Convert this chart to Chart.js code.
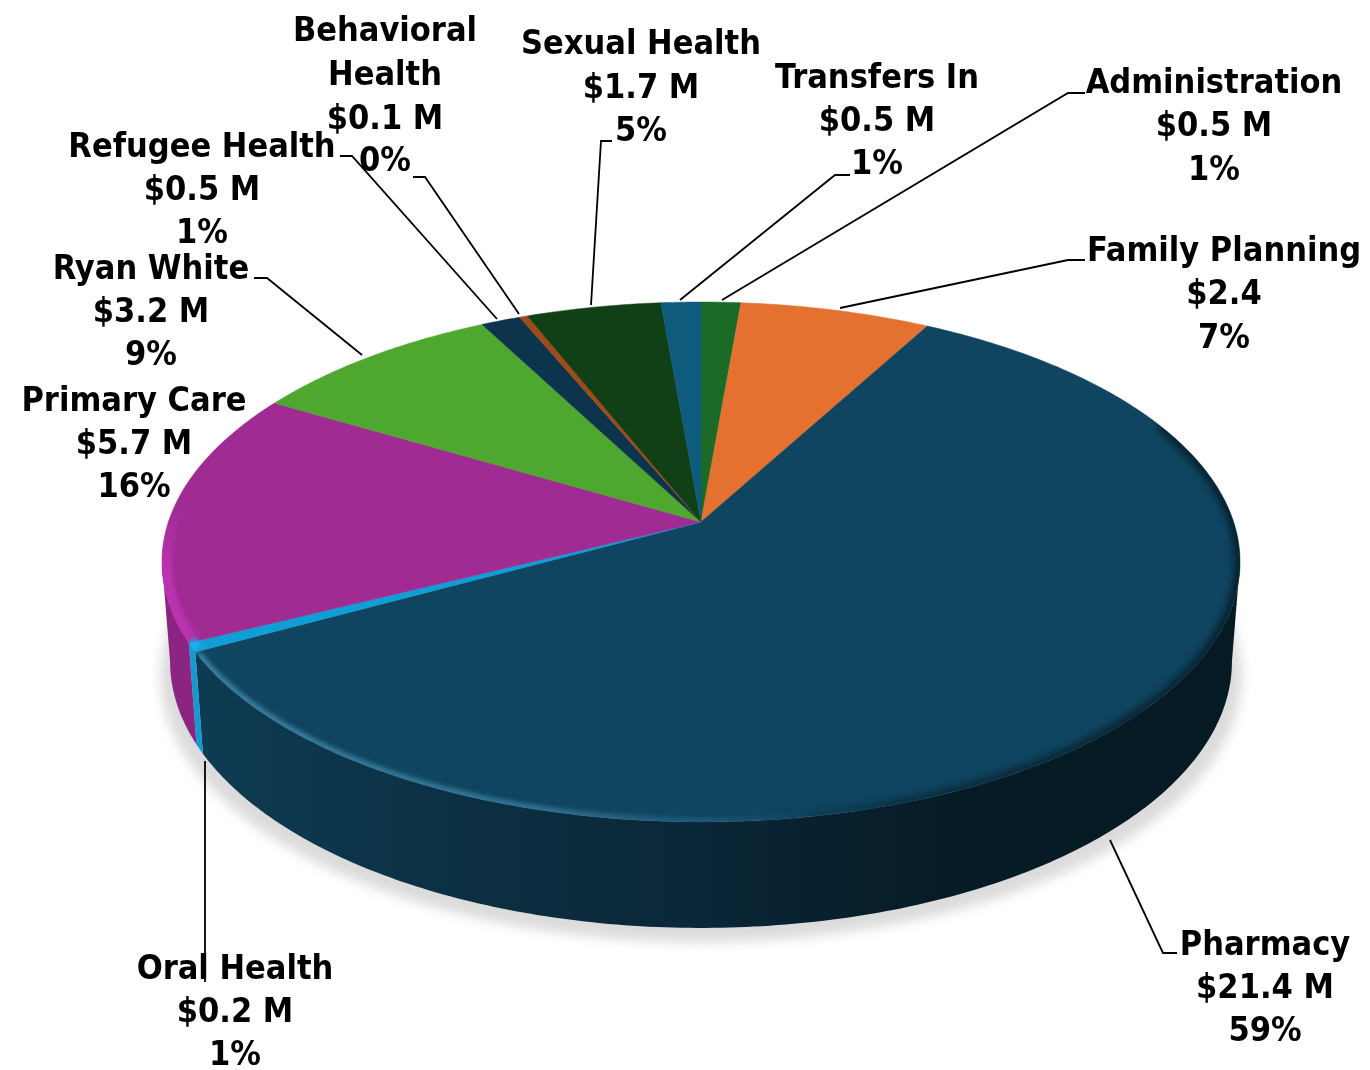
<!DOCTYPE html>
<html><head><meta charset="utf-8">
<style>html,body{margin:0;padding:0;background:#fff}canvas{display:block}</style>
<script src="https://cdn.jsdelivr.net/npm/chart.js@4"></script>
</head><body>
<canvas id="c" width="1370" height="1070"></canvas>
<script>
// ---- data (clockwise from 12 o'clock) ----
const categories = ["Administration","Family Planning","Pharmacy","Oral Health","Primary Care","Ryan White","Refugee Health","Behavioral Health","Sexual Health","Transfers In"];
const values = [0.5,2.4,21.4,0.2,5.7,3.2,0.5,0.1,1.7,0.5];
const amountLabels = ["$0.5 M","$2.4","$21.4 M","$0.2 M","$5.7 M","$3.2 M","$0.5 M","$0.1 M","$1.7 M","$0.5 M"];
const percentLabels = ["1%","7%","59%","1%","16%","9%","1%","0%","5%","1%"];

// ---- styles ----
const faceColors = ["#1b6b26","#e57130","#0f4560","#0f9ed5","#a02b93","#4ea72e","#0d344d","#a14a17","#114016","#0e5b7e"];
const wallColors = ["#125019","#b85a25","#0b2f42","#1499d0","#8c2482","#3d8524","#0a2a3e","#80390f","#0d3010","#0a4663"];

// ---- label layout: centre x and baselines ----
const labelCx = [1214,1224,1265,235,134,151,202,385,641,877];
const labelBase = [
 [93,136,180],[261,304,348],[955,998,1041],[979,1022,1065],[411,454,497],
 [279,322,365],[157,200,243],[41,85,129,171],[54,98,141],[88,131,174]];
const leaders = [
 [[1085,93],[1068,93],[722,300]],
 [[1085,260],[1068,260],[840,308]],
 [[1110,840],[1163,953],[1177,953]],
 [[205,761],[205,982]],
 [],
 [[254,278],[267,278],[362,355]],
 [[340,156],[352,156],[497,319]],
 [[413,177],[425,177],[519,314]],
 [[612,141],[601,141],[591,305]],
 [[850,175],[835,175],[680,300]]];

// ---- 3D projection of the pie ----
const CX=701, CY=522, PK=0.1538, PA=253.8, PB=532.6;
const WALL_A0=Math.asin(PK), WALL_A1=Math.PI-Math.asin(PK);
function topPt(a){const x=Math.cos(a),y=Math.sin(a),w=1-PK*y;return [CX+PB*x/w,CY+PA*y/w];}
function botPt(a){const p=topPt(a);return [CX+(p[0]-CX)*0.985,CY+40+(p[1]-CY-40)*1.025+99.5];}
function arcPts(fn,a0,a1){const n=Math.max(2,Math.ceil(Math.abs(a1-a0)/(Math.PI/240)));const r=[];for(let i=0;i<=n;i++)r.push(fn(a0+(a1-a0)*i/n));return r;}
function trace(ctx,pts,move=true){pts.forEach((p,i)=>{(i===0&&move)?ctx.moveTo(p[0],p[1]):ctx.lineTo(p[0],p[1]);});}

const pie3d = {
  id:'pie3d',
  beforeDatasetDraw(){return false;},
  afterDatasetsDraw(chart){
    const ctx=chart.ctx, arcs=chart.getDatasetMeta(0).data, full=[-Math.PI/2,Math.PI*1.5];
    // drop shadow
    ctx.save();
    ctx.filter='blur(6px)';
    ctx.fillStyle='rgba(0,0,0,0.14)';
    ctx.beginPath();
    trace(ctx,arcPts(botPt,full[0],full[1]).map(p=>[CX+(p[0]-CX)*1.018,p[1]+14]));
    ctx.closePath();ctx.fill();
    ctx.restore();
    // walls: only the part that faces the viewer, between the two silhouette angles
    arcs.forEach((arc,i)=>{
      const a0=Math.max(arc.startAngle,WALL_A0), a1=Math.min(arc.endAngle,WALL_A1);
      if(a1<=a0) return;
      ctx.beginPath();trace(ctx,arcPts(topPt,a0,a1));trace(ctx,arcPts(botPt,a0,a1).reverse(),false);ctx.closePath();
      if(i===2){
        const g=ctx.createLinearGradient(190,0,1240,0);
        g.addColorStop(0,'#0e3c53');g.addColorStop(0.25,'#0c3043');g.addColorStop(0.5,'#0a2636');g.addColorStop(0.72,'#071b26');g.addColorStop(1,'#061a24');
        ctx.fillStyle=g;
      } else ctx.fillStyle=wallColors[i];
      ctx.fill();
    });
    // faces
    arcs.forEach((arc,i)=>{
      ctx.beginPath();ctx.moveTo(CX,CY);trace(ctx,arcPts(topPt,arc.startAngle,arc.endAngle),false);ctx.closePath();
      ctx.fillStyle=faceColors[i];ctx.fill();
      ctx.strokeStyle=faceColors[i];ctx.lineWidth=0.5;ctx.stroke();
    });
    // bevel on the rim
    ctx.save();
    ctx.beginPath();trace(ctx,arcPts(topPt,full[0],full[1]));ctx.closePath();ctx.clip();
    const ph=arcs[2];
    // dark shaded rim on the right
    ctx.save();ctx.filter='blur(4px)';
    const dg=ctx.createLinearGradient(760,0,1240,0);
    dg.addColorStop(0,'rgba(4,20,28,0)');dg.addColorStop(0.35,'rgba(4,20,28,0.6)');dg.addColorStop(1,'rgba(4,20,28,0.95)');
    ctx.strokeStyle=dg;ctx.lineWidth=9;
    ctx.beginPath();trace(ctx,arcPts(topPt,ph.startAngle+0.65,ph.endAngle));ctx.stroke();ctx.restore();
    // light rim on the left, per slice
    ctx.save();ctx.filter='blur(2px)';
    const hg=ctx.createLinearGradient(195,0,820,0);
    hg.addColorStop(0,'rgba(70,140,175,0.8)');hg.addColorStop(0.55,'rgba(70,140,175,0.6)');hg.addColorStop(1,'rgba(70,140,175,0)');
    ctx.strokeStyle=hg;ctx.lineWidth=9;
    ctx.beginPath();trace(ctx,arcPts(topPt,ph.startAngle+0.3,ph.endAngle-0.01));ctx.stroke();
    ctx.restore();
    ctx.save();ctx.filter='blur(2px)';
    const pg=ctx.createLinearGradient(0,505,0,610);
    pg.addColorStop(0,'rgba(186,51,176,0)');pg.addColorStop(0.6,'rgba(186,51,176,1)');pg.addColorStop(1,'rgba(186,51,176,1)');
    ctx.strokeStyle=pg;ctx.lineWidth=20;
    const pc=arcs[4];
    ctx.beginPath();trace(ctx,arcPts(topPt,pc.startAngle,pc.startAngle+0.6));ctx.stroke();
    ctx.strokeStyle='#18aeea';ctx.lineWidth=18;
    const oh=arcs[3];
    ctx.beginPath();trace(ctx,arcPts(topPt,oh.startAngle,oh.endAngle));ctx.stroke();
    ctx.restore();
    ctx.restore();
    // leaders
    ctx.strokeStyle='#000';ctx.lineWidth=1.8;ctx.lineJoin='miter';
    leaders.forEach(l=>{if(l.length){ctx.beginPath();trace(ctx,l);ctx.stroke();}});
    // labels
    ctx.fillStyle='#000';ctx.textAlign='center';ctx.textBaseline='alphabetic';
    ctx.font='bold 34px "DejaVu Sans Condensed","DejaVu Sans"';
    ctx.fontStretch='condensed';
    categories.forEach((name,i)=>{
      const nameLines = name==="Behavioral Health" ? ["Behavioral","Health"] : [name];
      const lines=[...nameLines,amountLabels[i],percentLabels[i]];
      lines.forEach((s,j)=>ctx.fillText(s,labelCx[i],labelBase[i][j]));
    });
  }
};

new Chart(document.getElementById('c'),{
  type:'pie',
  data:{labels:categories,datasets:[{data:values,backgroundColor:faceColors,borderWidth:0}]},
  options:{responsive:false,animation:false,
    plugins:{legend:{display:false},tooltip:{enabled:false},title:{display:false}}},
  plugins:[pie3d]
});
</script>
</body></html>
